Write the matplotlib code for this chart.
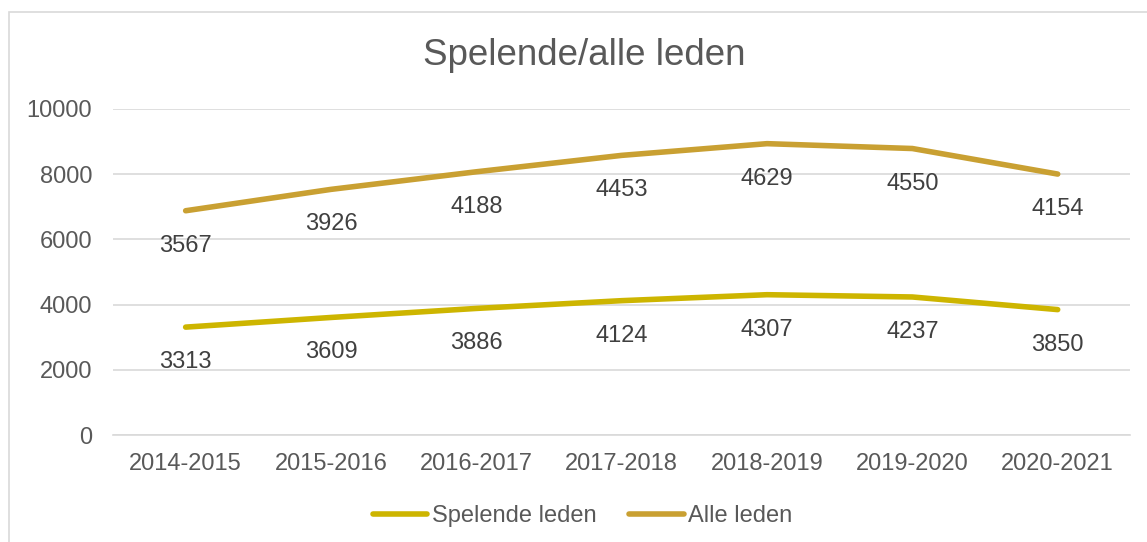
import matplotlib.pyplot as plt
from matplotlib.patches import Rectangle
import numpy as np

seasons = ['2014-2015', '2015-2016', '2016-2017', '2017-2018',
           '2018-2019', '2019-2020', '2020-2021']
spelende = [3313, 3609, 3886, 4124, 4307, 4237, 3850]
alle = [3567, 3926, 4188, 4453, 4629, 4550, 4154]

plt.rcParams['font.family'] = ['Liberation Sans', 'DejaVu Sans']

col_spel = '#CDB500'
col_alle = '#C9A032'
txt = '#595959'

fig = plt.figure(figsize=(11.47, 5.42), dpi=100)
ax = fig.add_axes([0.0985, 0.197, 0.887, 0.602])

x = np.arange(len(seasons))
# stacked lines: Alle leden sits on top of Spelende leden
top = np.array(spelende) + np.array(alle)
ax.plot(x, spelende, color=col_spel, lw=4, solid_capstyle='round', label='Spelende leden')
ax.plot(x, top, color=col_alle, lw=4, solid_capstyle='round', label='Alle leden')

for xi, v in zip(x, spelende):
    ax.annotate(str(v), (xi, v), xytext=(0, -35), textcoords='offset pixels',
                ha='center', va='center', fontsize=17, color='#404040')
for xi, v, t in zip(x, alle, top):
    ax.annotate(str(v), (xi, t), xytext=(0, -35), textcoords='offset pixels',
                ha='center', va='center', fontsize=17, color='#404040')

ax.set_xlim(-0.5, len(seasons) - 0.5)
ax.set_ylim(0, 10000)
ax.set_yticks(range(0, 10001, 2000))
ax.set_xticks(x)
ax.set_xticklabels(seasons)
ax.tick_params(length=0, labelsize=17, colors=txt)
ax.tick_params(axis='x', pad=13)
ax.tick_params(axis='y', pad=15)
ax.grid(axis='y', color='#D9D9D9', lw=1.2)
ax.set_axisbelow(True)
for s in ['top', 'right', 'left']:
    ax.spines[s].set_visible(False)
ax.spines['bottom'].set_color('#D9D9D9')
ax.spines['bottom'].set_linewidth(1.2)

fig.text(0.509, 0.898, 'Spelende/alle leden', ha='center', va='center',
         fontsize=26.5, color=txt)

fig.legend(loc='center', bbox_to_anchor=(0.508, 0.048), ncol=2, frameon=False,
           fontsize=17, labelcolor=txt, handlelength=2.3, handletextpad=0.2,
           columnspacing=1.4)

fig.patches.append(Rectangle((9 / 1147, -0.01), 1.0, 1 - 12 / 542 + 0.01,
                             transform=fig.transFigure, fill=False,
                             edgecolor='#D9D9D9', lw=1.2))

fig.savefig('out.png', dpi=100)
